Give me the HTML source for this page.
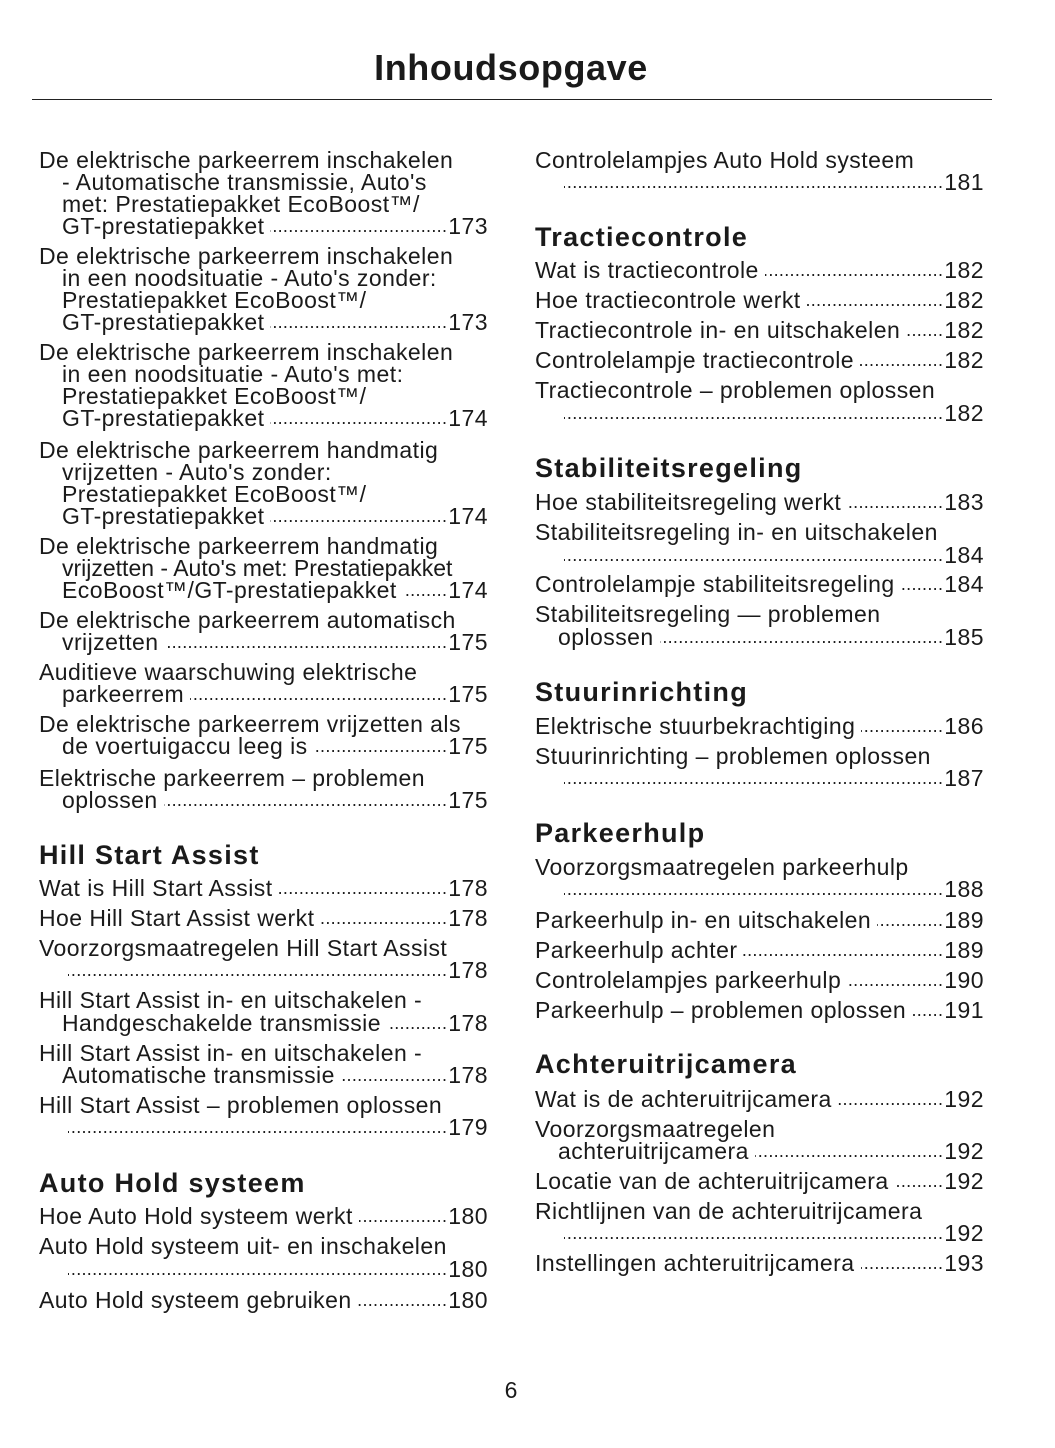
<!DOCTYPE html>
<html><head><meta charset="utf-8"><style>
body{margin:0;width:1055px;height:1448px;background:#fff;position:relative;font-family:"Liberation Sans",sans-serif;color:#1a1a1a;overflow:hidden}
.t{position:absolute;left:0;width:1022px;text-align:center;top:46px;font-size:36px;font-weight:bold;line-height:44px;letter-spacing:0.6px}
.r{position:absolute;left:32px;width:960px;top:99px;height:1px;background:#222}
.l{position:absolute;height:26px;line-height:26px;font-size:23px;letter-spacing:0.45px;white-space:nowrap}
.h{position:absolute;height:32px;line-height:32px;font-size:27px;font-weight:bold;letter-spacing:1.3px;white-space:nowrap}
.a{left:39px}.ai{left:62px}.b{left:535px}.bi{left:558px}
.d{display:flex}
.a.d{width:449px}.ai.d{width:426px}.b.d{width:449px}.bi.d{width:426px}
.f{flex:1;overflow:hidden;margin:0 1px 0 6px;direction:rtl;font-size:18px;letter-spacing:0}
.f::before{content:"................................................................................................................................................................";letter-spacing:0.3px}
.pn{position:absolute;left:0;width:1022px;text-align:center;top:1377px;font-size:23px}
</style></head><body>
<div class="t">Inhoudsopgave</div>
<div class="r"></div>

<div class="l a" style="top:147px">De elektrische parkeerrem inschakelen</div>
<div class="l ai" style="top:169px">- Automatische transmissie, Auto's</div>
<div class="l ai" style="top:191px">met: Prestatiepakket EcoBoost™/</div>
<div class="l ai d" style="top:213px"><span>GT-prestatiepakket</span><span class="f"></span><span>173</span></div>
<div class="l a" style="top:243px">De elektrische parkeerrem inschakelen</div>
<div class="l ai" style="top:265px">in een noodsituatie - Auto's zonder:</div>
<div class="l ai" style="top:287px">Prestatiepakket EcoBoost™/</div>
<div class="l ai d" style="top:309px"><span>GT-prestatiepakket</span><span class="f"></span><span>173</span></div>
<div class="l a" style="top:339px">De elektrische parkeerrem inschakelen</div>
<div class="l ai" style="top:361px">in een noodsituatie - Auto's met:</div>
<div class="l ai" style="top:383px">Prestatiepakket EcoBoost™/</div>
<div class="l ai d" style="top:405px"><span>GT-prestatiepakket</span><span class="f"></span><span>174</span></div>
<div class="l a" style="top:437px">De elektrische parkeerrem handmatig</div>
<div class="l ai" style="top:459px">vrijzetten - Auto's zonder:</div>
<div class="l ai" style="top:481px">Prestatiepakket EcoBoost™/</div>
<div class="l ai d" style="top:503px"><span>GT-prestatiepakket</span><span class="f"></span><span>174</span></div>
<div class="l a" style="top:533px">De elektrische parkeerrem handmatig</div>
<div class="l ai" style="top:555px;letter-spacing:0">vrijzetten - Auto's met: Prestatiepakket</div>
<div class="l ai d" style="top:577px"><span>EcoBoost™/GT-prestatiepakket</span><span class="f"></span><span>174</span></div>
<div class="l a" style="top:607px">De elektrische parkeerrem automatisch</div>
<div class="l ai d" style="top:629px"><span>vrijzetten</span><span class="f"></span><span>175</span></div>
<div class="l a" style="top:659px">Auditieve waarschuwing elektrische</div>
<div class="l ai d" style="top:681px"><span>parkeerrem</span><span class="f"></span><span>175</span></div>
<div class="l a" style="top:711px">De elektrische parkeerrem vrijzetten als</div>
<div class="l ai d" style="top:733px"><span>de voertuigaccu leeg is</span><span class="f"></span><span>175</span></div>
<div class="l a" style="top:765px">Elektrische parkeerrem – problemen</div>
<div class="l ai d" style="top:787px"><span>oplossen</span><span class="f"></span><span>175</span></div>
<div class="h a" style="top:839px">Hill Start Assist</div>
<div class="l a d" style="top:875px"><span>Wat is Hill Start Assist</span><span class="f"></span><span>178</span></div>
<div class="l a d" style="top:905px"><span>Hoe Hill Start Assist werkt</span><span class="f"></span><span>178</span></div>
<div class="l a" style="top:935px">Voorzorgsmaatregelen Hill Start Assist</div>
<div class="l ai d" style="top:957px"><span></span><span class="f"></span><span>178</span></div>
<div class="l a" style="top:987px">Hill Start Assist in- en uitschakelen -</div>
<div class="l ai d" style="top:1010px"><span>Handgeschakelde transmissie</span><span class="f"></span><span>178</span></div>
<div class="l a" style="top:1040px">Hill Start Assist in- en uitschakelen -</div>
<div class="l ai d" style="top:1062px"><span>Automatische transmissie</span><span class="f"></span><span>178</span></div>
<div class="l a" style="top:1092px">Hill Start Assist – problemen oplossen</div>
<div class="l ai d" style="top:1114px"><span></span><span class="f"></span><span>179</span></div>
<div class="h a" style="top:1167px">Auto Hold systeem</div>
<div class="l a d" style="top:1203px"><span>Hoe Auto Hold systeem werkt</span><span class="f"></span><span>180</span></div>
<div class="l a" style="top:1233px">Auto Hold systeem uit- en inschakelen</div>
<div class="l ai d" style="top:1256px"><span></span><span class="f"></span><span>180</span></div>
<div class="l a d" style="top:1287px"><span>Auto Hold systeem gebruiken</span><span class="f"></span><span>180</span></div>

<div class="l b" style="top:147px">Controlelampjes Auto Hold systeem</div>
<div class="l bi d" style="top:169px"><span></span><span class="f"></span><span>181</span></div>
<div class="h b" style="top:221px">Tractiecontrole</div>
<div class="l b d" style="top:257px"><span>Wat is tractiecontrole</span><span class="f"></span><span>182</span></div>
<div class="l b d" style="top:287px"><span>Hoe tractiecontrole werkt</span><span class="f"></span><span>182</span></div>
<div class="l b d" style="top:317px"><span>Tractiecontrole in- en uitschakelen</span><span class="f"></span><span>182</span></div>
<div class="l b d" style="top:347px"><span>Controlelampje tractiecontrole</span><span class="f"></span><span>182</span></div>
<div class="l b" style="top:377px">Tractiecontrole – problemen oplossen</div>
<div class="l bi d" style="top:400px"><span></span><span class="f"></span><span>182</span></div>
<div class="h b" style="top:452px">Stabiliteitsregeling</div>
<div class="l b d" style="top:489px"><span>Hoe stabiliteitsregeling werkt</span><span class="f"></span><span>183</span></div>
<div class="l b" style="top:519px">Stabiliteitsregeling in- en uitschakelen</div>
<div class="l bi d" style="top:542px"><span></span><span class="f"></span><span>184</span></div>
<div class="l b d" style="top:571px"><span>Controlelampje stabiliteitsregeling</span><span class="f"></span><span>184</span></div>
<div class="l b" style="top:601px">Stabiliteitsregeling — problemen</div>
<div class="l bi d" style="top:624px"><span>oplossen</span><span class="f"></span><span>185</span></div>
<div class="h b" style="top:676px">Stuurinrichting</div>
<div class="l b d" style="top:713px"><span>Elektrische stuurbekrachtiging</span><span class="f"></span><span>186</span></div>
<div class="l b" style="top:743px">Stuurinrichting – problemen oplossen</div>
<div class="l bi d" style="top:765px"><span></span><span class="f"></span><span>187</span></div>
<div class="h b" style="top:817px">Parkeerhulp</div>
<div class="l b" style="top:854px">Voorzorgsmaatregelen parkeerhulp</div>
<div class="l bi d" style="top:876px"><span></span><span class="f"></span><span>188</span></div>
<div class="l b d" style="top:907px"><span>Parkeerhulp in- en uitschakelen</span><span class="f"></span><span>189</span></div>
<div class="l b d" style="top:937px"><span>Parkeerhulp achter</span><span class="f"></span><span>189</span></div>
<div class="l b d" style="top:967px"><span>Controlelampjes parkeerhulp</span><span class="f"></span><span>190</span></div>
<div class="l b d" style="top:997px"><span>Parkeerhulp – problemen oplossen</span><span class="f"></span><span>191</span></div>
<div class="h b" style="top:1048px">Achteruitrijcamera</div>
<div class="l b d" style="top:1086px"><span>Wat is de achteruitrijcamera</span><span class="f"></span><span>192</span></div>
<div class="l b" style="top:1116px">Voorzorgsmaatregelen</div>
<div class="l bi d" style="top:1138px"><span>achteruitrijcamera</span><span class="f"></span><span>192</span></div>
<div class="l b d" style="top:1168px"><span>Locatie van de achteruitrijcamera</span><span class="f"></span><span>192</span></div>
<div class="l b" style="top:1198px">Richtlijnen van de achteruitrijcamera</div>
<div class="l bi d" style="top:1220px"><span></span><span class="f"></span><span>192</span></div>
<div class="l b d" style="top:1250px"><span>Instellingen achteruitrijcamera</span><span class="f"></span><span>193</span></div>

<div class="pn">6</div>
</body></html>
